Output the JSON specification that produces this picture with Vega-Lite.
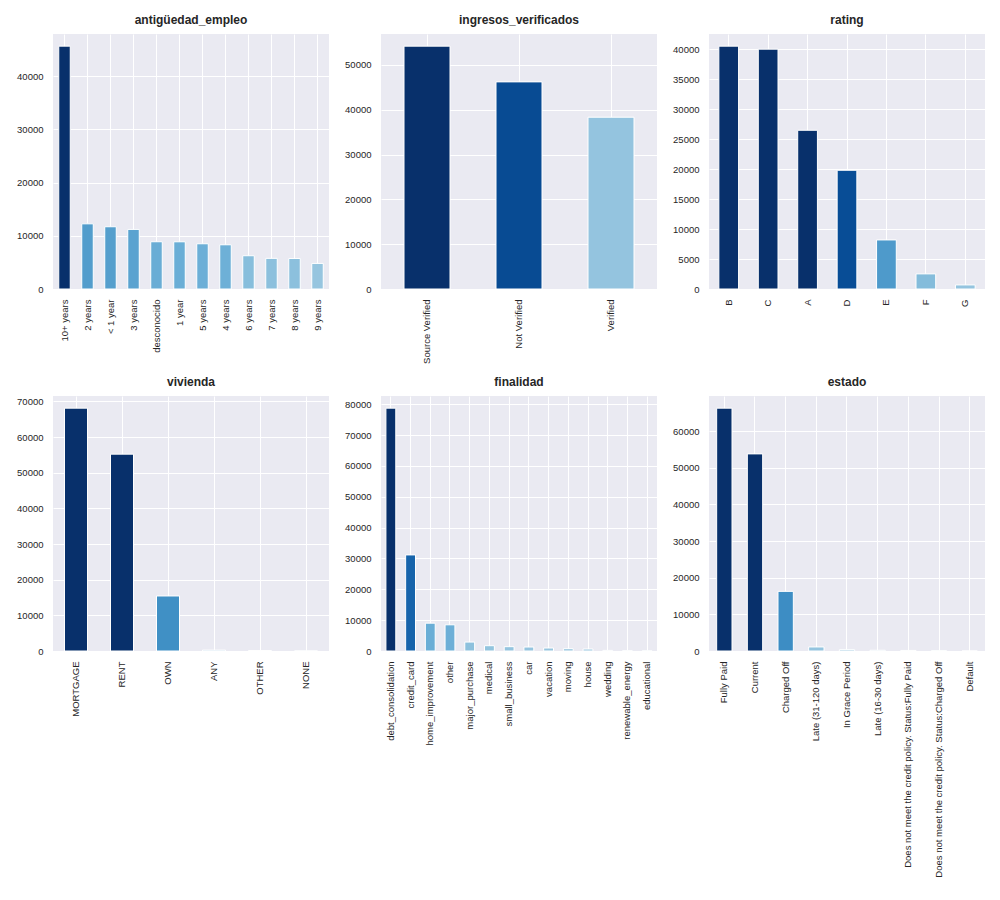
{
  "$schema": "https://vega.github.io/schema/vega-lite/v6.json",
  "padding": {"left": 16, "top": 14, "right": 5, "bottom": 5},
  "background": "white",
  "data": {"values": [
    {"variable": "antigüedad_empleo", "categoria": "10+ years", "n": 45650},
    {"variable": "antigüedad_empleo", "categoria": "2 years", "n": 12250},
    {"variable": "antigüedad_empleo", "categoria": "< 1 year", "n": 11700},
    {"variable": "antigüedad_empleo", "categoria": "3 years", "n": 11200},
    {"variable": "antigüedad_empleo", "categoria": "desconocido", "n": 8880},
    {"variable": "antigüedad_empleo", "categoria": "1 year", "n": 8870},
    {"variable": "antigüedad_empleo", "categoria": "5 years", "n": 8500},
    {"variable": "antigüedad_empleo", "categoria": "4 years", "n": 8310},
    {"variable": "antigüedad_empleo", "categoria": "6 years", "n": 6250},
    {"variable": "antigüedad_empleo", "categoria": "7 years", "n": 5760},
    {"variable": "antigüedad_empleo", "categoria": "8 years", "n": 5740},
    {"variable": "antigüedad_empleo", "categoria": "9 years", "n": 4810},
    {"variable": "ingresos_verificados", "categoria": "Source Verified", "n": 54170},
    {"variable": "ingresos_verificados", "categoria": "Not Verified", "n": 46200},
    {"variable": "ingresos_verificados", "categoria": "Verified", "n": 38320},
    {"variable": "rating", "categoria": "B", "n": 40500},
    {"variable": "rating", "categoria": "C", "n": 40000},
    {"variable": "rating", "categoria": "A", "n": 26470},
    {"variable": "rating", "categoria": "D", "n": 19800},
    {"variable": "rating", "categoria": "E", "n": 8180},
    {"variable": "rating", "categoria": "F", "n": 2520},
    {"variable": "rating", "categoria": "G", "n": 680},
    {"variable": "vivienda", "categoria": "MORTGAGE", "n": 68100},
    {"variable": "vivienda", "categoria": "RENT", "n": 55200},
    {"variable": "vivienda", "categoria": "OWN", "n": 15430},
    {"variable": "vivienda", "categoria": "ANY", "n": 250},
    {"variable": "vivienda", "categoria": "OTHER", "n": 150},
    {"variable": "vivienda", "categoria": "NONE", "n": 30},
    {"variable": "finalidad", "categoria": "debt_consolidation", "n": 78750},
    {"variable": "finalidad", "categoria": "credit_card", "n": 31150},
    {"variable": "finalidad", "categoria": "home_improvement", "n": 9020},
    {"variable": "finalidad", "categoria": "other", "n": 8490},
    {"variable": "finalidad", "categoria": "major_purchase", "n": 2900},
    {"variable": "finalidad", "categoria": "medical", "n": 1720},
    {"variable": "finalidad", "categoria": "small_business", "n": 1400},
    {"variable": "finalidad", "categoria": "car", "n": 1290},
    {"variable": "finalidad", "categoria": "vacation", "n": 970},
    {"variable": "finalidad", "categoria": "moving", "n": 750},
    {"variable": "finalidad", "categoria": "house", "n": 640},
    {"variable": "finalidad", "categoria": "wedding", "n": 200},
    {"variable": "finalidad", "categoria": "renewable_energy", "n": 110},
    {"variable": "finalidad", "categoria": "educational", "n": 60},
    {"variable": "estado", "categoria": "Fully Paid", "n": 66250},
    {"variable": "estado", "categoria": "Current", "n": 53770},
    {"variable": "estado", "categoria": "Charged Off", "n": 16270},
    {"variable": "estado", "categoria": "Late (31-120 days)", "n": 1100},
    {"variable": "estado", "categoria": "In Grace Period", "n": 370},
    {"variable": "estado", "categoria": "Late (16-30 days)", "n": 200},
    {"variable": "estado", "categoria": "Does not meet the credit policy. Status:Fully Paid", "n": 150},
    {"variable": "estado", "categoria": "Does not meet the credit policy. Status:Charged Off", "n": 90},
    {"variable": "estado", "categoria": "Default", "n": 5}
  ]},
  "spacing": 12,
  "vconcat": [
    {
      "spacing": 15,
      "resolve": {"scale": {"color": "independent", "x": "independent", "y": "independent"}},
      "hconcat": [
        {
          "title": "antigüedad_empleo",
          "width": 276, "height": 255,
          "transform": [{"filter": "datum.variable === 'antigüedad_empleo'"}],
          "mark": "bar",
          "encoding": {
            "x": {"field": "categoria", "type": "nominal", "sort": null, "scale": {"paddingInner": 0.5, "paddingOuter": 0.25}},
            "y": {"field": "n", "type": "quantitative", "scale": {"domain": [0, 47932], "nice": false}, "axis": {"values": [0, 10000, 20000, 30000, 40000]}},
            "color": {"field": "categoria", "type": "nominal", "legend": null, "scale": {
              "domain": ["10+ years", "2 years", "< 1 year", "3 years", "desconocido", "1 year", "5 years", "4 years", "6 years", "7 years", "8 years", "9 years"],
              "range": ["#08306b", "#529dcc", "#559fcd", "#5aa3d0", "#69add5", "#6aaed6", "#6cafd7", "#6eb0d7", "#87bedc", "#8cc0dd", "#8cc0dd", "#96c5df"]}}
          }
        },
        {
          "title": "ingresos_verificados",
          "width": 276, "height": 255,
          "transform": [{"filter": "datum.variable === 'ingresos_verificados'"}],
          "mark": "bar",
          "encoding": {
            "x": {"field": "categoria", "type": "nominal", "sort": null, "scale": {"paddingInner": 0.5, "paddingOuter": 0.25}},
            "y": {"field": "n", "type": "quantitative", "scale": {"domain": [0, 56879], "nice": false}, "axis": {"values": [0, 10000, 20000, 30000, 40000, 50000]}},
            "color": {"field": "categoria", "type": "nominal", "legend": null, "scale": {
              "domain": ["Source Verified", "Not Verified", "Verified"],
              "range": ["#08306b", "#084b93", "#94c4df"]}}
          }
        },
        {
          "title": "rating",
          "width": 276, "height": 255,
          "transform": [{"filter": "datum.variable === 'rating'"}],
          "mark": "bar",
          "encoding": {
            "x": {"field": "categoria", "type": "nominal", "sort": null, "scale": {"paddingInner": 0.5, "paddingOuter": 0.25}},
            "y": {"field": "n", "type": "quantitative", "scale": {"domain": [0, 42525], "nice": false}, "axis": {"values": [0, 5000, 10000, 15000, 20000, 25000, 30000, 35000, 40000]}},
            "color": {"field": "categoria", "type": "nominal", "legend": null, "scale": {
              "domain": ["B", "C", "A", "D", "E", "F", "G"],
              "range": ["#08306b", "#08306b", "#08306b", "#084d96", "#4e9acb", "#84bcdb", "#94c4df"]}}
          }
        }
      ]
    },
    {
      "spacing": 15,
      "resolve": {"scale": {"color": "independent", "x": "independent", "y": "independent"}},
      "hconcat": [
        {
          "title": "vivienda",
          "width": 276, "height": 255,
          "transform": [{"filter": "datum.variable === 'vivienda'"}],
          "mark": "bar",
          "encoding": {
            "x": {"field": "categoria", "type": "nominal", "sort": null, "scale": {"paddingInner": 0.5, "paddingOuter": 0.25}},
            "y": {"field": "n", "type": "quantitative", "scale": {"domain": [0, 71505], "nice": false}, "axis": {"values": [0, 10000, 20000, 30000, 40000, 50000, 60000, 70000]}},
            "color": {"field": "categoria", "type": "nominal", "legend": null, "scale": {
              "domain": ["MORTGAGE", "RENT", "OWN", "ANY", "OTHER", "NONE"],
              "range": ["#08306b", "#08306b", "#4090c5", "#a3cce3", "#a3cce3", "#a3cce3"]}}
          }
        },
        {
          "title": "finalidad",
          "width": 276, "height": 255,
          "transform": [{"filter": "datum.variable === 'finalidad'"}],
          "mark": "bar",
          "encoding": {
            "x": {"field": "categoria", "type": "nominal", "sort": null, "scale": {"paddingInner": 0.5, "paddingOuter": 0.25}},
            "y": {"field": "n", "type": "quantitative", "scale": {"domain": [0, 82688], "nice": false}, "axis": {"values": [0, 10000, 20000, 30000, 40000, 50000, 60000, 70000, 80000]}},
            "color": {"field": "categoria", "type": "nominal", "legend": null, "scale": {
              "domain": ["debt_consolidation", "credit_card", "home_improvement", "other", "major_purchase", "medical", "small_business", "car", "vacation", "moving", "house", "wedding", "renewable_energy", "educational"],
              "range": ["#08306b", "#1764ab", "#6aaed6", "#6dafd7", "#8dc1dd", "#92c4de", "#94c4df", "#94c4df", "#96c5df", "#97c6df", "#97c6df", "#9ac8e0", "#9ac8e0", "#9ac8e0"]}}
          }
        },
        {
          "title": "estado",
          "width": 276, "height": 255,
          "transform": [{"filter": "datum.variable === 'estado'"}],
          "mark": "bar",
          "encoding": {
            "x": {"field": "categoria", "type": "nominal", "sort": null, "scale": {"paddingInner": 0.5, "paddingOuter": 0.25}},
            "y": {"field": "n", "type": "quantitative", "scale": {"domain": [0, 69563], "nice": false}, "axis": {"values": [0, 10000, 20000, 30000, 40000, 50000, 60000]}},
            "color": {"field": "categoria", "type": "nominal", "legend": null, "scale": {
              "domain": ["Fully Paid", "Current", "Charged Off", "Late (31-120 days)", "In Grace Period", "Late (16-30 days)", "Does not meet the credit policy. Status:Fully Paid", "Does not meet the credit policy. Status:Charged Off", "Default"],
              "range": ["#08306b", "#08306b", "#3d8dc4", "#94c4df", "#a0cbe2", "#a6cee4", "#a6cee4", "#a6cee4", "#a6cee4"]}}
          }
        }
      ]
    }
  ],
  "resolve": {"scale": {"color": "independent", "x": "independent", "y": "independent"}},
  "config": {
    "view": {"fill": "#EAEAF2", "stroke": null},
    "font": "Liberation Sans",
    "axis": {
      "grid": true, "gridColor": "white", "gridWidth": 1, "gridOpacity": 1,
      "domain": false, "ticks": false, "tickSize": 0,
      "labelFont": "Liberation Sans", "labelFontSize": 9.5, "labelColor": "#262626",
      "labelPadding": 10, "labelLimit": 400, "title": null
    },
    "axisY": {"format": "d"},
    "axisX": {"labelAngle": 270, "bandPosition": 0.5},
    "title": {"font": "Liberation Sans", "fontSize": 12, "fontWeight": "bold", "color": "#262626", "frame": "group", "anchor": "middle", "offset": 7},
    "bar": {"stroke": "white", "strokeWidth": 1}
  }
}
